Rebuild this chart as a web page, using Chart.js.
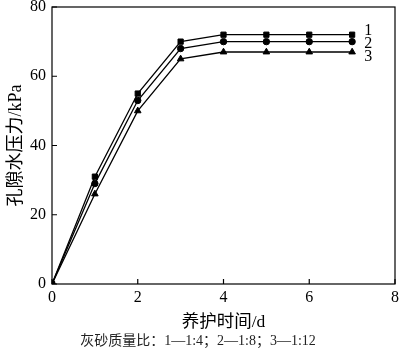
<!DOCTYPE html>
<html>
<head>
<meta charset="utf-8">
<script src="https://cdn.jsdelivr.net/npm/chart.js@4.4.1/dist/chart.umd.min.js"></script>
<style>
html, body { margin: 0; padding: 0; background: #fff; }
#wrap { width: 400px; height: 352px; }
</style>
</head>
<body>
<div id="wrap"><canvas id="canvas" width="400" height="352"></canvas></div>
<script>
// curing time (d) and pore water pressure (kPa) per lime-sand ratio
var days = [0, 1, 2, 3, 4, 5, 6, 7];
var ratio1 = [0, 31, 55, 70, 72, 72, 72, 72];
var ratio2 = [0, 29, 53, 68, 70, 70, 70, 70];
var ratio3 = [0, 26, 50, 65, 67, 67, 67, 67];
var seriesNames = ['1', '2', '3'];
var xTicks = [0, 2, 4, 6, 8];
var yTicks = [0, 20, 40, 60, 80];

var serif = '"Liberation Serif", "Noto Sans CJK SC", serif';

function toPoints(vals) {
    return days.map(function (d, i) { return { x: d, y: vals[i] }; });
}

function makeSet(label, vals, style, radius) {
    return {
        label: label,
        data: toPoints(vals),
        borderColor: '#000',
        backgroundColor: '#000',
        borderWidth: 1.3,
        pointStyle: style,
        pointRadius: radius,
        pointBorderWidth: 1,
        tension: 0
    };
}

// frame, inward ticks and the 1/2/3 tags at line ends
var framePlugin = {
    id: 'frame',
    afterDatasetsDraw: function (chart) {
        var ctx = chart.ctx;
        var a = chart.chartArea;
        var xs = chart.scales.x, ys = chart.scales.y;
        ctx.save();
        ctx.strokeStyle = '#000';
        ctx.lineWidth = 1.2;
        ctx.strokeRect(a.left, a.top, a.right - a.left, a.bottom - a.top);
        ctx.beginPath();
        xTicks.forEach(function (v) {
            var px = xs.getPixelForValue(v);
            ctx.moveTo(px, a.bottom);
            ctx.lineTo(px, a.bottom - 5);
        });
        yTicks.forEach(function (v) {
            var py = ys.getPixelForValue(v);
            ctx.moveTo(a.left, py);
            ctx.lineTo(a.left + 5, py);
        });
        ctx.stroke();

        var offs = [-3.5, 2.5, 5];
        ctx.fillStyle = '#000';
        ctx.font = '16px ' + serif;
        ctx.textAlign = 'left';
        ctx.textBaseline = 'middle';
        chart.data.datasets.forEach(function (ds, i) {
            var pts = chart.getDatasetMeta(i).data;
            var last = pts[pts.length - 1];
            ctx.fillText(seriesNames[i], last.x + 12, last.y + offs[i]);
        });
        ctx.restore();
    }
};

var ctx = document.getElementById('canvas').getContext('2d');
var chart = new Chart(ctx, {
    type: 'line',
    data: {
        datasets: [
            makeSet(seriesNames[0], ratio1, 'rect', 3.7),
            makeSet(seriesNames[1], ratio2, 'circle', 3.2),
            makeSet(seriesNames[2], ratio3, 'triangle', 3.8)
        ]
    },
    options: {
        responsive: false,
        animation: false,
        layout: { padding: { top: 0, right: 4, bottom: 0, left: 0 } },
        plugins: {
            legend: { display: false },
            tooltip: { enabled: false },
            title: {
                display: true,
                position: 'bottom',
                text: '灰砂质量比：1—1:4；2—1:8；3—1:12',
                color: '#222',
                font: { family: serif, size: 14, weight: 'normal', lineHeight: 1.2 },
                padding: { top: 0, bottom: 2 }
            }
        },
        scales: {
            x: {
                type: 'linear',
                min: 0,
                max: 8,
                afterBuildTicks: function (s) { s.ticks = xTicks.map(function (v) { return { value: v }; }); },
                ticks: { color: '#000', padding: 4, font: { family: serif, size: 16 } },
                grid: { display: false, drawTicks: false },
                border: { display: false },
                title: {
                    display: true,
                    text: '养护时间/d',
                    color: '#000',
                    font: { family: serif, size: 17.5, lineHeight: 1.2 },
                    padding: { top: 0, bottom: 0 }
                },
                afterFit: function (s) {
                    s.height = 49.2;
                    s.paddingLeft = 0;
                    s.paddingRight = 0;
                }
            },
            y: {
                type: 'linear',
                min: 0,
                max: 80,
                afterBuildTicks: function (s) { s.ticks = yTicks.map(function (v) { return { value: v }; }); },
                ticks: { color: '#000', padding: 6, font: { family: serif, size: 16 } },
                grid: { display: false, drawTicks: false },
                border: { display: false },
                title: {
                    display: true,
                    text: '孔隙水压力/kPa',
                    color: '#000',
                    font: { family: serif, size: 18, lineHeight: 1.2 },
                    padding: { top: 5, bottom: 0 }
                },
                afterFit: function (s) {
                    s.width = 52;
                    s.paddingTop = 7;
                    s.paddingBottom = 0;
                }
            }
        }
    },
    plugins: [framePlugin]
});
</script>
</body>
</html>
